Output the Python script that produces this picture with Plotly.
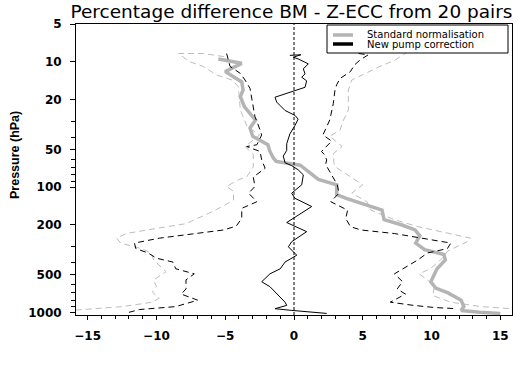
import plotly.graph_objects as go

# ---------------- data ----------------
title_text = "Percentage difference BM - Z-ECC from 20 pairs"
legend_names = ["Standard normalisation", "New pump correction"]

# Standard normalisation: mean (thick grey)
std_mean_p = [9.5, 10.3, 12.0, 13.1, 14.5, 16.8, 19.0, 22.9, 26.6, 29.2, 33.8, 39.4, 46, 52, 58.7, 62.5,
              67, 87, 96, 115, 123, 135, 153, 182, 200, 220, 245, 280, 316, 345, 382, 449, 570, 640,
              700, 800, 900, 965, 1000, 1020]
std_mean_x = [-5.5, -3.8, -5.0, -4.4, -3.8, -3.7, -3.9, -3.6, -3.1, -2.8, -3.2, -3.0, -1.9, -1.75, -1.5, -1.3,
              0.45, 1.77, 3.1, 3.1, 3.8, 5.0, 6.4, 6.55, 7.8, 8.8, 9.15, 8.85, 9.5, 10.9, 11.0, 10.4, 9.95, 10.3,
              11.2, 12.15, 12.35, 12.15, 13.5, 15.0]

# Standard normalisation: envelope (thin grey dashed)
std_lo_p = [9.1, 8.6, 8.6, 10.0, 10.9, 12.8, 14.0, 15.8, 24.3, 27.4, 33, 38.4, 47.5, 55, 69, 83, 87.5, 99,
            108, 127, 143, 162, 196, 212, 235, 256, 280, 310, 336, 382, 420, 475, 550, 624, 690, 770, 830,
            900, 950, 975]
std_lo_x = [-5.1, -6.6, -8.4, -7.6, -6.6, -5.6, -4.5, -4.05, -3.9, -3.7, -3.4, -2.5, -3.56, -2.96, -2.96,
            -3.44, -4.05, -4.9, -4.4, -4.4, -5.2, -6.2, -7.85, -9.8, -12.2, -12.9, -12.6, -11.1, -10.4, -10.2,
            -9.8, -9.3, -10.2, -10.0, -10.3, -9.8, -10.3, -12.5, -15.4, -16.5]
std_hi_p = [8.3, 9.7, 10.9, 12.8, 14, 16.8, 24.3, 29.2, 35, 39.4, 47.5, 54, 64, 69, 96, 112, 131, 153, 182,
            207, 227, 256, 273, 325, 370, 449, 493, 550, 624, 735, 830, 900, 935, 965]
std_hi_x = [8.3, 7.35, 6.25, 5.0, 4.2, 3.95, 3.95, 3.6, 3.35, 2.6, 3.5, 2.86, 2.9, 3.0, 5.0, 4.2, 5.3, 5.6,
            7.3, 9.0, 10.7, 12.85, 12.6, 11.15, 10.8, 9.9, 9.1, 9.7, 10.2, 10.1, 11.4, 13.6, 15.8, 16.5]

# New pump correction: mean (thin black)
new_mean_p = [8.9, 8.8, 9.2, 9.5, 10.4, 11.4, 12.5, 13.3, 14.2, 16.0, 17.0, 19.2, 21, 24.5, 26.8, 28.7, 32.3,
              37.7, 45.2, 51, 56.6, 64, 67.5, 72.8, 80, 96, 112, 123, 143, 192, 227, 273, 300, 350, 397,
              449, 493, 570, 624, 685, 830, 880, 935, 965, 1000, 1020]
new_mean_x = [-0.3, 0.5, -0.05, 0.3, 1.04, 0.68, 0.8, 0.56, 0.92, 0.8, 0.07, -1.38, -1.26, -0.65, 0.07, 0.3,
              0.07, -0.3, -0.53, -0.53, -0.78, -0.65, -0.17, 0.3, 0.68, 0.56, -0.17, 0.07, 1.29, -0.53, 0.92,
              -0.17, -0.41, 0.2, -0.65, -1.0, -1.75, -2.35, -1.75, -1.38, -0.65, -0.53, -1.38, -0.17, 2.0, 2.38]

# New pump correction: envelope (black dashed)
new_lo_p = [8.6, 9.4, 10.9, 12.4, 14.0, 16.3, 19.0, 22.9, 27.4, 32, 38.4, 46, 47.5, 52, 60.7, 70.9, 83.2, 99,
            112, 131, 148, 178, 205, 220, 235, 256, 280, 310, 336, 370, 397, 449, 493, 550, 650, 715, 800,
            900, 950, 1000]
new_lo_x = [-4.9, -4.8, -4.65, -3.9, -3.56, -3.2, -3.1, -2.96, -2.84, -2.6, -2.35, -2.7, -3.44, -2.47, -2.35,
            -2.1, -2.96, -2.84, -3.3, -2.7, -3.8, -3.8, -4.2, -5.1, -7.3, -9.8, -11.6, -11.5, -10.6, -10.0,
            -8.8, -8.6, -7.25, -7.85, -7.85, -8.2, -7.0, -8.6, -11.25, -12.0]
new_hi_p = [8.6, 8.8, 9.7, 10.6, 12, 13.6, 15.3, 16.8, 21.5, 24.3, 29.2, 33, 38.4, 43, 52, 55, 60.7, 66, 78,
            96, 112, 131, 153, 178, 207, 220, 235, 256, 280, 310, 336, 382, 493, 570, 650, 715, 830, 880,
            915, 935]
new_hi_x = [4.7, 5.4, 4.8, 4.4, 4.1, 3.35, 3.1, 2.98, 2.86, 2.74, 2.6, 2.38, 2.1, 2.74, 2.0, 2.2, 2.38, 2.3,
            2.67, 3.15, 3.27, 2.67, 3.9, 3.76, 4.1, 4.85, 7.3, 9.2, 11.4, 11.15, 9.7, 9.0, 7.3, 7.9, 7.5, 8.1,
            7.0, 8.7, 10.2, 11.8]

x_ticks = [-15, -10, -5, 0, 5, 10, 15]
y_ticks = [5, 10, 20, 50, 100, 200, 500, 1000]
y_minor = [30, 40, 60, 70, 80, 90, 300, 400, 600, 700, 800, 900]

# ---------------- styles ----------------
GREY = "#b4b4b4"
GREY_D = "#bdbdbd"
DASH = "6px,4px"

fig = go.Figure()

def add(xs, ps, color, width, dash=None):
    fig.add_trace(go.Scatter(x=xs, y=ps, mode="lines", showlegend=False, hoverinfo="skip",
                             line=dict(color=color, width=width, dash=dash)))

add(std_lo_x, std_lo_p, GREY_D, 1, DASH)
add(std_hi_x, std_hi_p, GREY_D, 1, DASH)
add(std_mean_x, std_mean_p, GREY, 3.5)
add(new_lo_x, new_lo_p, "black", 1, DASH)
add(new_hi_x, new_hi_p, "black", 1, DASH)
add(new_mean_x, new_mean_p, "black", 1)

W, H = 522, 368
L, R, T, B = 76, 10, 24, 53
pw, ph = W - L - R, H - T - B

def px(x):
    return (x - L) / pw

def py(y):
    return (H - B - y) / ph

shapes = [
    dict(type="line", xref="x", yref="paper", x0=0, x1=0, y0=0, y1=1,
         line=dict(color="black", width=1, dash="3px,2px")),
    dict(type="rect", xref="paper", yref="paper", x0=px(327), x1=px(508), y0=py(53), y1=py(25),
         line=dict(color="black", width=1), fillcolor="white"),
    dict(type="line", xref="paper", yref="paper", x0=px(333), x1=px(353), y0=py(35), y1=py(35),
         line=dict(color=GREY, width=3.5)),
    dict(type="line", xref="paper", yref="paper", x0=px(333), x1=px(353), y0=py(44), y1=py(44),
         line=dict(color="black", width=3.5)),
]

annotations = [
    dict(text=legend_names[0], xref="paper", yref="paper", x=px(365), y=py(35), xanchor="left",
         yanchor="middle", showarrow=False, font=dict(family="DejaVu Sans", size=10, color="black")),
    dict(text=legend_names[1], xref="paper", yref="paper", x=px(365), y=py(44.5), xanchor="left",
         yanchor="middle", showarrow=False, font=dict(family="DejaVu Sans", size=10, color="black")),
    dict(text="<b>Pressure (hPa)</b>", xref="paper", yref="paper", x=px(15), y=py(155), textangle=-90,
         xanchor="center", yanchor="middle", showarrow=False,
         font=dict(family="Liberation Sans", size=12.5, color="black")),
]

tickfont = dict(family="DejaVu Sans", size=12, color="black", weight="bold")

fig.update_layout(
    width=W, height=H,
    margin=dict(l=L, r=R, t=T, b=B, pad=0, autoexpand=False),
    paper_bgcolor="white", plot_bgcolor="white",
    title=dict(text=title_text, x=px(291.5), xref="paper", xanchor="center",
               y=1 - 12 / H, yanchor="middle", automargin=False,
               font=dict(family="DejaVu Sans", size=18.5, color="black")),
    shapes=shapes, annotations=annotations, showlegend=False,
    xaxis=dict(range=[-15.85, 15.85], tickvals=x_ticks, ticktext=[str(v).replace("-", "\u2212") for v in x_ticks],
               ticks="outside", ticklen=4, tickcolor="black", tickwidth=1, automargin=False,
               minor=dict(dtick=1, tick0=0, ticks="outside", ticklen=3, tickcolor="black", tickwidth=1,
                          showgrid=False),
               showgrid=False, zeroline=False, showline=True, linecolor="black", linewidth=1,
               mirror=True, tickfont=tickfont, ticklabelstandoff=6),
    yaxis=dict(type="log", range=[3.0212, 0.69897], tickvals=y_ticks, ticktext=[str(v) for v in y_ticks],
               ticks="outside", ticklen=5, tickcolor="black", tickwidth=1, automargin=False,
               minor=dict(tickvals=y_minor, ticks="outside", ticklen=4, tickcolor="black", tickwidth=1,
                          showgrid=False),
               showgrid=False, zeroline=False, showline=True, linecolor="black", linewidth=1,
               mirror=True, tickfont=tickfont, ticklabelstandoff=6),
)

fig.write_html("out.html", config={"displayModeBar": False, "staticPlot": True},
               post_script="document.body.style.margin='0';document.body.style.overflow='hidden';")
